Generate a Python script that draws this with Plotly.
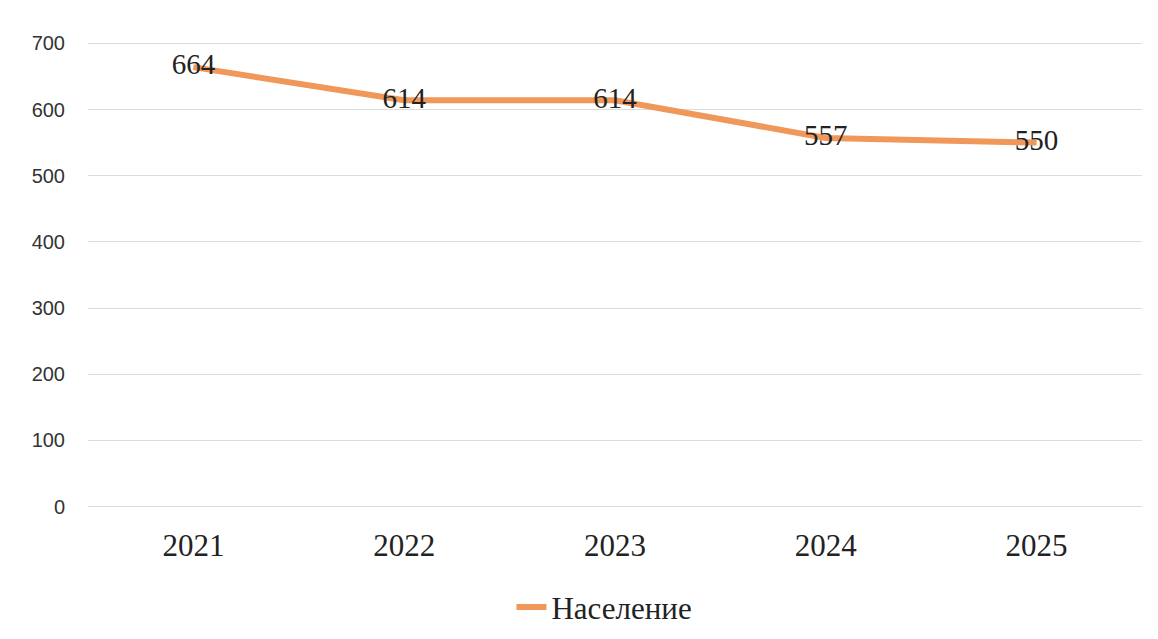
import plotly.graph_objects as go

years = ["2021", "2022", "2023", "2024", "2025"]
population = [664, 614, 614, 557, 550]
series_name = "Население"
y_ticks = [0, 100, 200, 300, 400, 500, 600, 700]

fig = go.Figure()
fig.add_trace(go.Scatter(
    x=years, y=population, name=series_name,
    mode="lines+text",
    text=[str(v) for v in population],
    textposition="middle center",
    textfont=dict(family="Liberation Serif", size=29, color="#222222"),
    line=dict(color="#F0975A", width=6),
))

fig.update_layout(
    width=1158, height=639,
    paper_bgcolor="white", plot_bgcolor="white",
    margin=dict(l=80, r=24, t=34, b=139, autoexpand=False),
    showlegend=True,
    legend=dict(orientation="h", x=0.49, xanchor="center", y=-0.213, yanchor="middle",
                font=dict(family="Liberation Serif", size=31, color="#222222")),
    xaxis=dict(type="category", showgrid=False, zeroline=False, showline=False,
               tickfont=dict(family="Liberation Serif", size=31, color="#222222"),
               ticklabelstandoff=16, range=[-0.5, 4.5]),
    yaxis=dict(range=[-2, 702], tickvals=y_ticks, showgrid=True, gridcolor="#dcdcdc",
               gridwidth=1, zeroline=False, showline=False,
               tickfont=dict(family="Liberation Sans", size=20, color="#333333"),
               ticklabelstandoff=22),
)

fig.write_html("out.html")
